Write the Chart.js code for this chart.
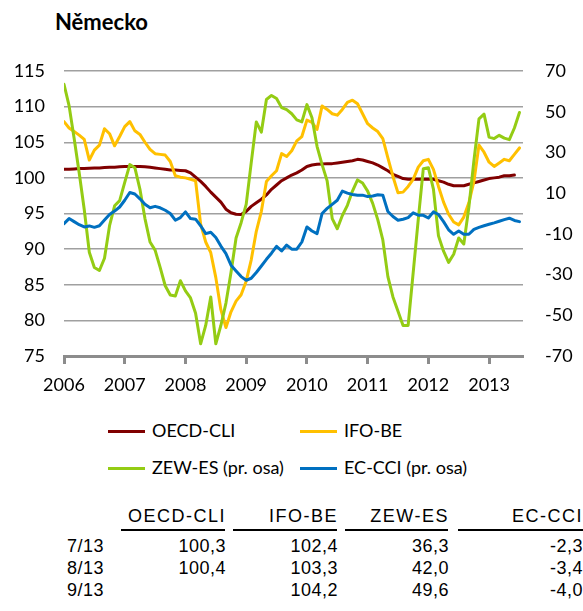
<!DOCTYPE html>
<html lang="cs">
<head>
<meta charset="utf-8">
<title>Německo</title>
<script src="https://cdn.jsdelivr.net/npm/chart.js@4.4.1/dist/chart.umd.min.js"></script>
<style>
  html, body { margin: 0; padding: 0; background: #fff; }
  #wrap { position: relative; width: 583px; height: 611px; overflow: hidden; }
  #title { position: absolute; left: 55px; top: 9px; font: bold 22px/26px Lato, sans-serif; color: #000; }
  #chart { position: absolute; left: 0; top: 0; }
  .leg { position: absolute; font: 18px/22px Lato, sans-serif; color: #000; white-space: nowrap; }
  .legline { position: absolute; height: 3px; }
  .cell { position: absolute; font: 18px/20px "Liberation Sans", Arial, sans-serif; letter-spacing: 0.5px; color: #000; text-align: right; white-space: nowrap; }
  .cell.head { letter-spacing: 1.5px; }
  .rule { position: absolute; height: 2px; background: #000; }
</style>
</head>
<body>
<div id="wrap">
  <div id="title">Německo</div>
  <canvas id="chart" width="583" height="400"></canvas>
  <div id="legend"></div>
  <div id="table"></div>
</div>
<script>
// --- data (monthly, index 0 = 2006) ---
const years = ['2006', '2007', '2008', '2009', '2010', '2011', '2012', '2013'];
const seriesNames = ['OECD-CLI', 'IFO-BE', 'ZEW-ES (pr. osa)', 'EC-CCI (pr. osa)'];
const tableCols = ['OECD-CLI', 'IFO-BE', 'ZEW-ES', 'EC-CCI'];
const tableRows = ['7/13', '8/13', '9/13'];
const tableIdx = [88, 89, 90];

const oecdCli = [
  101.2, 101.2, 101.25, 101.3, 101.3, 101.35, 101.4, 101.4, 101.45, 101.5,
  101.5, 101.55, 101.6, 101.6, 101.6, 101.6, 101.55, 101.5, 101.4, 101.3,
  101.2, 101.1, 101.1, 101.05, 101.0, 100.7, 100.1, 99.5, 98.8, 98.0,
  97.3, 96.6, 95.6, 95.1, 94.9, 94.85, 95.3, 96.0, 96.5, 97.0,
  97.6, 98.4, 99.0, 99.6, 100.0, 100.4, 100.7, 101.1, 101.6, 101.8,
  101.9, 101.95, 102.0, 102.0, 102.1, 102.2, 102.3, 102.4, 102.6, 102.5,
  102.3, 102.1, 101.8, 101.4, 101.0, 100.5, 100.2, 99.9, 99.8, 99.8,
  99.8, 99.8, 99.8, 99.8, 99.6, 99.4, 99.1, 98.9, 98.9, 98.9,
  99.1, 99.3, 99.5, 99.7, 99.9, 100.0, 100.1, 100.3, 100.3, 100.4
];
const ifoBe = [
  107.9, 107.0, 106.5, 106.0, 105.4, 102.5, 103.9, 104.6, 106.9, 106.2,
  104.5, 105.8, 107.2, 107.9, 106.6, 106.1, 105.0, 104.0, 103.4, 103.3,
  103.2, 102.3, 100.3, 100.1, 100.0, 99.8, 99.6, 93.5, 91.0, 89.5,
  86.0, 81.5, 79.0, 81.2, 82.7, 83.6, 85.5, 88.5, 92.5, 95.3,
  99.5, 100.3, 101.0, 103.4, 103.0, 103.8, 105.2, 105.8, 108.1, 107.8,
  106.8, 110.1, 109.6, 109.0, 108.8, 109.6, 110.6, 110.9, 110.4, 109.0,
  107.6, 107.0, 106.5, 105.5, 102.8, 100.2, 97.9, 98.0, 98.8, 99.8,
  101.5, 102.4, 102.6, 101.2, 98.8, 96.6, 94.9, 93.8, 93.4, 94.5,
  96.5, 99.5, 104.6, 103.6, 102.2, 101.6, 102.1, 102.6, 102.4, 103.3,
  104.2
];
const zewEs = [
  63.5, 53, 37, 20, 2, -19, -26.5, -28, -22, -6,
  3.8, 6.3, 15.3, 24, 22.5, 12, -2.5, -14, -18, -26.5,
  -35.5, -40, -40.5, -33, -38, -41.5, -49, -64, -55, -41,
  -64, -55, -44, -29, -12, -4.5, 4.5, 25, 45, 40,
  56, 58, 56.5, 52, 51, 49, 46, 45, 53.5, 47,
  33, 24, 16, -2.5, -7.5, -1, 4, 11, 16.5, 15,
  11, 5, -3, -13, -31, -41, -48, -55, -55, -29,
  -3, 22, 22.5, 12, -11, -18.5, -24, -20, -12, -15,
  3, 26, 46.5, 48.8, 37.5, 36.8, 38.4, 37.0, 36.3, 42.0,
  49.6
];
const ecCci = [
  -5.0, -2.5, -4.0, -5.5, -6.6, -6.1, -6.8, -6.0, -3.2, -0.5,
  1.2, 3.2, 6.5, 10.3, 9.6, 7.2, 4.5, 2.8, 3.5, 2.8,
  1.6, 0.0, -3.3, -2.0, 0.8, -2.5, -2.8, -6.0, -9.9, -9.2,
  -11.8, -16.0, -19.7, -25.4, -28.2, -31.0, -32.8, -31.8, -29.0, -25.8,
  -22.5, -19.5, -16.1, -18.4, -15.5, -17.5, -17.5, -14.0, -6.6, -8.6,
  -9.9, 0.0, 2.5, 4.5, 6.5, 11.0, 10.0, 9.3, 9.0, 9.0,
  8.3, 8.6, 9.2, 9.0, 1.0, -1.5, -3.3, -2.8, -2.0, 0.3,
  -0.8, -0.9, -2.2, 0.8, -0.5, -4.0, -8.0, -10.2, -8.6, -10.2,
  -10.2, -7.8, -6.8, -6.0, -5.3, -4.6, -3.8, -3.0, -2.3, -3.4,
  -4.0
];

const colors = ['#800000', '#ffc000', '#94cc14', '#0070c0'];
const allSeries = [oecdCli, ifoBe, zewEs, ecCci];
const axisOf = ['y', 'y', 'y2', 'y2'];

// x = month index, y = value
function toPoints(arr) {
  return arr.map((v, i) => ({ x: i, y: v }));
}

Chart.defaults.color = '#000';
Chart.defaults.font.family = 'Lato, sans-serif';
Chart.defaults.font.size = 18;

const datasets = allSeries.map((arr, k) => ({
  label: seriesNames[k],
  data: toPoints(arr),
  yAxisID: axisOf[k],
  borderColor: colors[k],
  borderWidth: 3,
  pointRadius: 0,
  tension: 0,
  borderJoinStyle: 'round',
  borderCapStyle: 'round',
  order: 3 - k // secondary-axis series on top
}));

new Chart(document.getElementById('chart'), {
  type: 'line',
  data: { datasets: datasets },
  options: {
    responsive: false,
    animation: false,
    layout: { padding: { top: 71, left: 0, right: 0, bottom: 0 } },
    plugins: { legend: { display: false }, tooltip: { enabled: false } },
    scales: {
      x: {
        type: 'linear',
        min: 0,
        max: 90.7,
        afterFit: s => { s.height = 44; },
        border: { color: '#8c8c8c', width: 3 },
        grid: { drawOnChartArea: false, tickLength: 8, tickColor: '#8c8c8c', tickWidth: 3 },
        ticks: {
          stepSize: 12,
          includeBounds: false,
          autoSkip: false,
          maxRotation: 0,
          padding: 10,
          callback: v => years[Math.round(v / 12)] || ''
        }
      },
      y: {
        position: 'left',
        min: 75,
        max: 115,
        afterFit: s => { s.width = 64; },
        border: { display: false },
        grid: { color: '#a0a0a0', lineWidth: 1.5, drawTicks: false },
        ticks: { stepSize: 5, padding: 19 }
      },
      y2: {
        position: 'right',
        min: -70,
        max: 70,
        afterFit: s => { s.width = 60; },
        border: { display: false },
        grid: { drawOnChartArea: false, drawTicks: false },
        ticks: { stepSize: 20, padding: 22 }
      }
    }
  }
});

// legend, 2 x 2 like the original
const legendSpots = [[108, 431], [300, 431], [108, 468], [300, 468]];
const legendEl = document.getElementById('legend');
seriesNames.forEach((name, k) => {
  const [lx, ly] = legendSpots[k];
  const line = document.createElement('div');
  line.className = 'legline';
  line.style.cssText = `left:${lx}px;top:${ly - 1}px;width:37px;background:${colors[k]}`;
  legendEl.appendChild(line);
  const txt = document.createElement('div');
  txt.className = 'leg';
  txt.style.cssText = `left:${lx + 44}px;top:${ly - 12}px`;
  txt.textContent = name;
  legendEl.appendChild(txt);
});

// table of the latest values
const colRight = [225, 337, 448, 582];
const colRule = [[121, 225], [233, 337], [345, 448], [458, 583]];
const tableEl = document.getElementById('table');
const fmt = v => (v === undefined ? '' : v.toFixed(1).replace('.', ','));

function addCell(text, right, top, cls) {
  const d = document.createElement('div');
  d.className = 'cell' + (cls ? ' ' + cls : '');
  d.style.cssText = `right:${583 - right - 1}px;top:${top}px`;
  d.textContent = text;
  tableEl.appendChild(d);
}

tableCols.forEach((c, k) => {
  addCell(c, colRight[k], 506, 'head');
  const r = document.createElement('div');
  r.className = 'rule';
  r.style.cssText = `left:${colRule[k][0]}px;top:529px;width:${colRule[k][1] - colRule[k][0]}px`;
  tableEl.appendChild(r);
});
tableRows.forEach((m, r) => {
  const top = 536 + r * 22;
  addCell(m, 103, top);
  allSeries.forEach((arr, k) => addCell(fmt(arr[tableIdx[r]]), colRight[k], top));
});
</script>
</body>
</html>
